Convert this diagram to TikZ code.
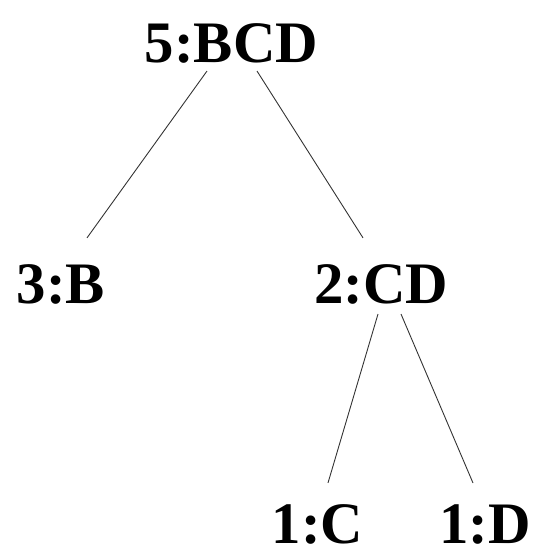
\documentclass[tikz,border=0pt]{standalone}
\usepackage{fontspec}
\setmainfont{Liberation Serif}
\usepackage{tikz}
\usetikzlibrary{positioning}
\tikzstyle{treenode} = [inner sep=0, anchor=base, font=\fontsize{59}{59}\selectfont\bfseries]
\tikzstyle{branch} = [draw, line width=0.9pt, black!80]

\begin{document}
\begin{tikzpicture}[x=1bp, y=-1bp]
	  \useasboundingbox (0,0) rectangle (539,553);
	  \node [treenode] (bcd) at (231.5,63) {5:BCD};
	  \node [treenode] (b) at (61,303) {3:B};
	  \node [treenode] (cd) at (381,303) {2:CD};
	  \node [treenode] (c) at (317.5,543) {1:C};
	  \node [treenode] (d) at (485,543) {1:D};
	
	  \draw [branch] ([xshift=-24.5bp,yshift=-7bp]bcd.south) -- ([xshift=26bp,yshift=26bp]b.north);
	  \draw [branch] ([xshift=25.5bp,yshift=-7bp]bcd.south) -- ([xshift=-18bp,yshift=26bp]cd.north);
	  \draw [branch] ([xshift=-3bp,yshift=-10bp]cd.south) -- ([xshift=10.5bp,yshift=21bp]c.north);
	  \draw [branch] ([xshift=20bp,yshift=-10bp]cd.south) -- ([xshift=-12bp,yshift=21bp]d.north);
	\end{tikzpicture}
\end{document}
